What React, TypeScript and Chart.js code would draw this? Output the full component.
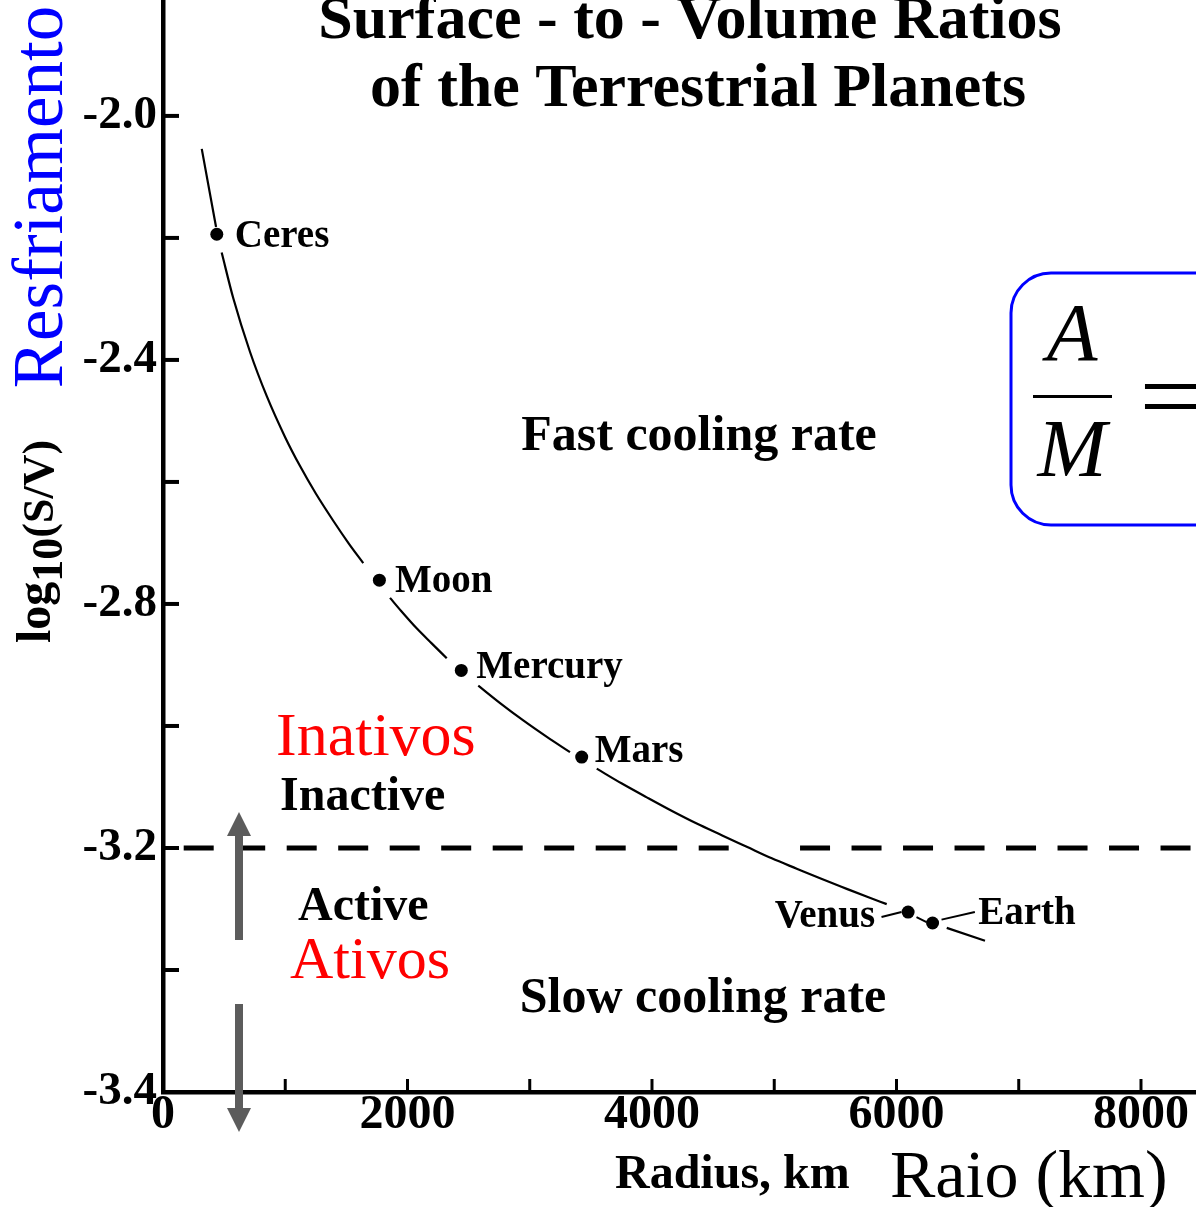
import React, { useEffect, useRef } from 'react';
import { Chart, registerables } from 'chart.js';

Chart.register(...registerables);

// ---------------- data ----------------
const planetNames = ['Ceres', 'Moon', 'Mercury', 'Mars', 'Venus', 'Earth'];
const planetRadiusKm = [440, 1770, 2440, 3425, 6095, 6295];
const planetLogSV = [-2.194, -2.761, -2.909, -3.051, -3.305, -3.323];

// S/V curve, split where the original breaks it around the labelled dots
const curvePiece1Km = [317, 434];
const curvePiece1LogSV = [-2.054, -2.182];
const curvePiece2Km = [480, 575, 712, 848, 1000, 1121, 1250, 1394, 1520, 1638];
const curvePiece2LogSV = [-2.224, -2.299, -2.387, -2.459, -2.527, -2.574, -2.619, -2.664, -2.701, -2.733];
const curvePiece3Km = [1857, 1950, 2075, 2200, 2321];
const curvePiece3LogSV = [-2.79, -2.812, -2.84, -2.865, -2.889];
const curvePiece4Km = [2579, 2760, 2947, 3140, 3329];
const curvePiece4LogSV = [-2.934, -2.963, -2.991, -3.018, -3.043];
const curvePiece5Km = [3548, 3750, 3957, 4160, 4366, 4570, 4775, 4980, 5184, 5390, 5593, 5760, 5920];
const curvePiece5LogSV = [-3.07, -3.094, -3.117, -3.139, -3.16, -3.179, -3.198, -3.217, -3.234, -3.251, -3.267, -3.28, -3.292];
const curvePiece6Km = [6411, 6724];
const curvePiece6LogSV = [-3.331, -3.352];

const thresholdLogSV = -3.2;
const thresholdSpan1Km = [0, 4630];
const thresholdSpan2Km = [5211, 8450];

const xRangeKm = [0, 8450];
const yRange = [-3.6, -1.81];
const xTickLabelValues = [0, 2000, 4000, 6000, 8000];
const xTickMarkValues = [1000, 2000, 3000, 4000, 5000, 6000, 7000, 8000];
const yTickLabelValues = [-2.0, -2.4, -2.8, -3.2, -3.6];
const yTickLabelTexts = ['-2.0', '-2.4', '-2.8', '-3.2', '-3.4'];
const yTickMarkValues = [-2.0, -2.2, -2.4, -2.6, -2.8, -3.0, -3.2, -3.4];

// ---------------- styles ----------------
const SERIF = '"Liberation Serif", "Times New Roman", serif';
// label offsets (px) from each dot: [dx, dy(baseline), align]
const planetLabelOffsets: [number, number, CanvasTextAlign][] = [
  [18, 12.7, 'left'],
  [15.5, 11.7, 'left'],
  [15, 7.8, 'left'],
  [13, 4.7, 'left'],
  [-33, 15.3, 'right'],
  [45.6, 0.6, 'left'],
];

const curvePieces = [
  [curvePiece1Km, curvePiece1LogSV],
  [curvePiece2Km, curvePiece2LogSV],
  [curvePiece3Km, curvePiece3LogSV],
  [curvePiece4Km, curvePiece4LogSV],
  [curvePiece5Km, curvePiece5LogSV],
  [curvePiece6Km, curvePiece6LogSV],
];

function buildCurve() {
  const out: { x: number; y: number | null }[] = [];
  curvePieces.forEach(([xs, ys], i) => {
    if (i > 0) {
      const prev = out[out.length - 1].x;
      out.push({ x: (prev + xs[0]) / 2, y: null });
    }
    xs.forEach((x, j) => out.push({ x, y: ys[j] }));
  });
  return out;
}

const annotationPlugin = {
  id: 'annotations',
  afterDraw(chart: any) {
    const { ctx, chartArea } = chart;
    const x = chart.scales.x;
    const y = chart.scales.y;
    ctx.save();

    const seg = (x1: number, y1: number, x2: number, y2: number) => {
      ctx.beginPath();
      ctx.moveTo(x1, y1);
      ctx.lineTo(x2, y2);
      ctx.stroke();
    };

    // inward tick marks
    ctx.strokeStyle = '#000';
    ctx.lineWidth = 4;
    yTickMarkValues.forEach((v) => {
      const py = y.getPixelForValue(v);
      seg(chartArea.left, py, chartArea.left + 16, py);
    });
    ctx.lineWidth = 3;
    xTickMarkValues.forEach((v) => {
      const px = x.getPixelForValue(v);
      seg(px, chartArea.bottom, px, chartArea.bottom - 13);
    });

    // planet labels
    ctx.fillStyle = '#000';
    ctx.font = `bold 39px ${SERIF}`;
    ctx.textBaseline = 'alphabetic';
    const dots = planetNames.map((_, i) => ({
      x: x.getPixelForValue(planetRadiusKm[i]),
      y: y.getPixelForValue(planetLogSV[i]),
    }));
    planetNames.forEach((name, i) => {
      const [dx, dy, align] = planetLabelOffsets[i];
      ctx.textAlign = align;
      ctx.fillText(name, dots[i].x + dx, dots[i].y + dy);
    });
    // leaders for Venus / Earth
    ctx.lineWidth = 2;
    const v = dots[4];
    const e = dots[5];
    seg(v.x - 26.6, v.y + 5, v.x - 6.6, v.y);
    seg(v.x + 8.4, v.y + 5, v.x + 18.4, v.y + 10);
    seg(e.x + 9, e.y - 3.4, e.x + 42.3, e.y - 11);

    // title
    ctx.textAlign = 'center';
    ctx.font = `bold 62px ${SERIF}`;
    ctx.fillText('Surface - to - Volume Ratios', 690, 38);
    ctx.fillText('of the Terrestrial Planets', 698, 106);

    ctx.font = `bold 50px ${SERIF}`;
    ctx.fillText('Fast cooling rate', 699, 450);
    ctx.fillText('Slow cooling rate', 703, 1012);

    ctx.textAlign = 'left';
    ctx.font = `bold 48px ${SERIF}`;
    ctx.fillText('Inactive', 280, 810);
    ctx.fillText('Active', 298, 920);
    ctx.fillStyle = '#ff0000';
    ctx.font = `62px ${SERIF}`;
    ctx.fillText('Inativos', 276, 755);
    ctx.font = `60px ${SERIF}`;
    ctx.fillText('Ativos', 290, 978);

    // axis titles
    ctx.fillStyle = '#000';
    ctx.font = `bold 48px ${SERIF}`;
    ctx.fillText('Radius, km', 615, 1188);
    ctx.font = `68px ${SERIF}`;
    ctx.fillText('Raio (km)', 890, 1197);

    // rotated y titles
    ctx.save();
    ctx.translate(62, 197);
    ctx.rotate(-Math.PI / 2);
    ctx.fillStyle = '#0000ff';
    ctx.font = `71px ${SERIF}`;
    ctx.textAlign = 'center';
    ctx.fillText('Resfriamento', 0, 0);
    ctx.restore();

    ctx.save();
    ctx.translate(50, 643);
    ctx.rotate(-Math.PI / 2);
    ctx.fillStyle = '#000';
    ctx.textAlign = 'left';
    ctx.font = `bold 48px ${SERIF}`;
    ctx.fillText('log', 0, 0);
    let off = ctx.measureText('log').width;
    ctx.font = `bold 44px ${SERIF}`;
    ctx.fillText('10', off, 12);
    off += ctx.measureText('10').width;
    ctx.font = `bold 44px ${SERIF}`;
    ctx.fillText('(S/V)', off, 3);
    ctx.restore();

    // activity arrows
    ctx.fillStyle = '#5c5c5c';
    const ax = 239;
    ctx.fillRect(ax - 4, 835, 8, 105);
    ctx.beginPath();
    ctx.moveTo(ax, 812);
    ctx.lineTo(ax - 12, 836);
    ctx.lineTo(ax + 12, 836);
    ctx.closePath();
    ctx.fill();
    ctx.fillRect(ax - 4, 1004, 8, 105);
    ctx.beginPath();
    ctx.moveTo(ax, 1132);
    ctx.lineTo(ax - 12, 1108);
    ctx.lineTo(ax + 12, 1108);
    ctx.closePath();
    ctx.fill();

    // A/M box
    ctx.strokeStyle = '#0000ff';
    ctx.lineWidth = 3;
    ctx.beginPath();
    (ctx as any).roundRect(1011, 273, 320, 252, 40);
    ctx.stroke();
    ctx.fillStyle = '#000';
    ctx.font = `italic 83px ${SERIF}`;
    ctx.textAlign = 'center';
    ctx.fillText('A', 1072, 360);
    ctx.fillText('M', 1072, 476);
    ctx.fillRect(1033, 395, 79, 3);
    ctx.save();
    ctx.translate(1138, 0);
    ctx.scale(1.4, 1);
    ctx.textAlign = 'left';
    ctx.font = `100px ${SERIF}`;
    ctx.fillText('=', 0, 430);
    ctx.restore();

    ctx.restore();
  },
};

export default function App() {
  const canvasRef = useRef<HTMLCanvasElement | null>(null);

  useEffect(() => {
    const canvas = canvasRef.current;
    if (!canvas) return;
    const chart = new Chart(canvas, {
      type: 'scatter',
      data: {
        datasets: [
          {
            type: 'line',
            label: 'S/V',
            data: buildCurve(),
            borderColor: '#000',
            borderWidth: 2.2,
            pointRadius: 0,
            spanGaps: false,
            cubicInterpolationMode: 'monotone',
            fill: false,
          },
          {
            type: 'line',
            label: 'threshold-a',
            data: thresholdSpan1Km.map((k) => ({ x: k, y: thresholdLogSV })),
            borderColor: '#000',
            borderWidth: 5,
            borderDash: [30, 21.5],
            borderDashOffset: 30.8,
            pointRadius: 0,
            fill: false,
          },
          {
            type: 'line',
            label: 'threshold-b',
            data: thresholdSpan2Km.map((k) => ({ x: k, y: thresholdLogSV })),
            borderColor: '#000',
            borderWidth: 5,
            borderDash: [30, 21.5],
            borderDashOffset: 0,
            pointRadius: 0,
            fill: false,
          },
          {
            label: 'planets',
            data: planetRadiusKm.map((r, i) => ({ x: r, y: planetLogSV[i] })),
            pointRadius: 6.5,
            pointBackgroundColor: '#000',
            pointBorderWidth: 0,
            showLine: false,
          },
        ],
      } as any,
      options: {
        responsive: false,
        animation: false,
        events: [],
        layout: { padding: 0, autoPadding: false },
        plugins: {
          legend: { display: false },
          tooltip: { enabled: false },
          title: { display: false },
        },
        scales: {
          x: {
            type: 'linear',
            min: xRangeKm[0],
            max: xRangeKm[1],
            grid: { display: false, drawTicks: false },
            border: { display: true, color: '#000', width: 4.5 },
            ticks: {
              autoSkip: false,
              maxRotation: 0,
              padding: 0,
              color: '#000',
              font: { family: SERIF, size: 48, weight: 'bold', lineHeight: 1 },
              callback: (val: any) => String(val),
            },
            afterBuildTicks: (s: any) => {
              s.ticks = xTickLabelValues.map((v) => ({ value: v }));
            },
            afterFit: (s: any) => {
              s.height = 115;
              s.paddingLeft = 0;
              s.paddingRight = 0;
            },
          },
          y: {
            type: 'linear',
            min: yRange[0],
            max: yRange[1],
            grid: { display: false, drawTicks: false },
            border: { display: true, color: '#000', width: 4.5 },
            ticks: {
              autoSkip: false,
              padding: 6,
              color: '#000',
              font: { family: SERIF, size: 47, weight: 'bold', lineHeight: 1 },
              callback: (val: any) => {
                const idx = yTickLabelValues.findIndex((t) => Math.abs(t - Number(val)) < 1e-9);
                return idx >= 0 ? yTickLabelTexts[idx] : '';
              },
            },
            afterBuildTicks: (s: any) => {
              s.ticks = yTickLabelValues.map((v) => ({ value: v }));
            },
            afterFit: (s: any) => {
              s.width = 163;
              s.paddingTop = 0;
              s.paddingBottom = 0;
            },
          },
        },
      } as any,
      plugins: [annotationPlugin],
    });
    return () => chart.destroy();
  }, []);

  return (
    <div style={{ position: 'absolute', left: 0, top: 0, width: 1196, height: 1207, background: '#fff' }}>
      <canvas ref={canvasRef} width={1196} height={1207} style={{ display: 'block' }} />
    </div>
  );
}
